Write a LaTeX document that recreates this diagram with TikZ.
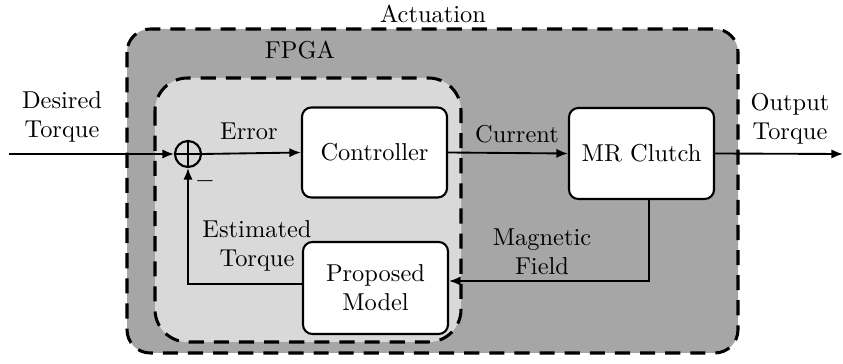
\documentclass[tikz,border=0pt]{standalone}
\usetikzlibrary{arrows.meta}
\begin{document}
\begin{tikzpicture}[x=0.43pt,y=-0.43pt,
  every node/.style={font=\fontsize{10.5}{12.5}\selectfont},
  blockbox/.style={draw,line width=0.9pt,rounded corners=4pt,fill=white},
  groupbox/.style={draw,line width=1.3pt,dash pattern=on 6.5pt off 4.3pt},
  conn/.style={line width=0.8pt},
  arr/.style={conn,-{Latex[length=5pt,width=4pt]}},
  lbl/.style={align=center,inner sep=0pt}]
\useasboundingbox (0,0) rectangle (843,364);
% groups
\draw[groupbox,fill=black!35,rounded corners=10pt] (127,29) rectangle (738,353);
\draw[groupbox,fill=black!15,rounded corners=14pt] (155,78) rectangle (461,342);
\node[lbl] (act) at (433,14) {Actuation};
\node[lbl] (fpga) at (300,50) {FPGA};
% blocks
\node[blockbox,minimum width=145*0.43pt,minimum height=90*0.43pt] (ctrl) at (374.5,152.5) {Controller};
\node[blockbox,minimum width=145*0.43pt,minimum height=91*0.43pt] (mr) at (641.5,153.5) {MR Clutch};
\node[blockbox,minimum width=145*0.43pt,minimum height=92*0.43pt,align=center] (pm) at (375.5,288) {Proposed\\Model};
\node[draw,circle,line width=0.9pt,minimum size=26*0.43pt,inner sep=0pt] (sum) at (188,154) {};
\draw[line width=0.9pt] (sum.north) -- (sum.south) (sum.west) -- (sum.east);
% coordinates
\coordinate (in) at (9,154);
\coordinate (out) at (843,154);
\coordinate (c1) at (649,281);
\coordinate (c2) at (188,284);
% connectors
\draw[arr] (in) -- (sum.west);
\draw[arr] (sum.east) -- (ctrl.west);
\draw[arr] (ctrl.east) -- (mr.west);
\draw[arr] (mr.east) -- (out);
\draw[arr] (mr.south -| c1) -- (c1) -- (c1 -| pm.east);
\draw[arr] (pm.west |- c2) -- (c2) -- (sum.south);
% labels
\node[lbl] (l1) at (62,117) {Desired\\Torque};
\node[lbl] (l2) at (249,131) {Error};
\node[lbl] (l3) at (517,134) {Current};
\node[lbl] (l4) at (790,119) {Output\\Torque};
\node[lbl] (l5) at (257,246) {Estimated\\Torque};
\node[lbl] (l6) at (542,252) {Magnetic\\Field};
\node[lbl] (minus) at (205,181) {$-$};
\end{tikzpicture}
\end{document}
